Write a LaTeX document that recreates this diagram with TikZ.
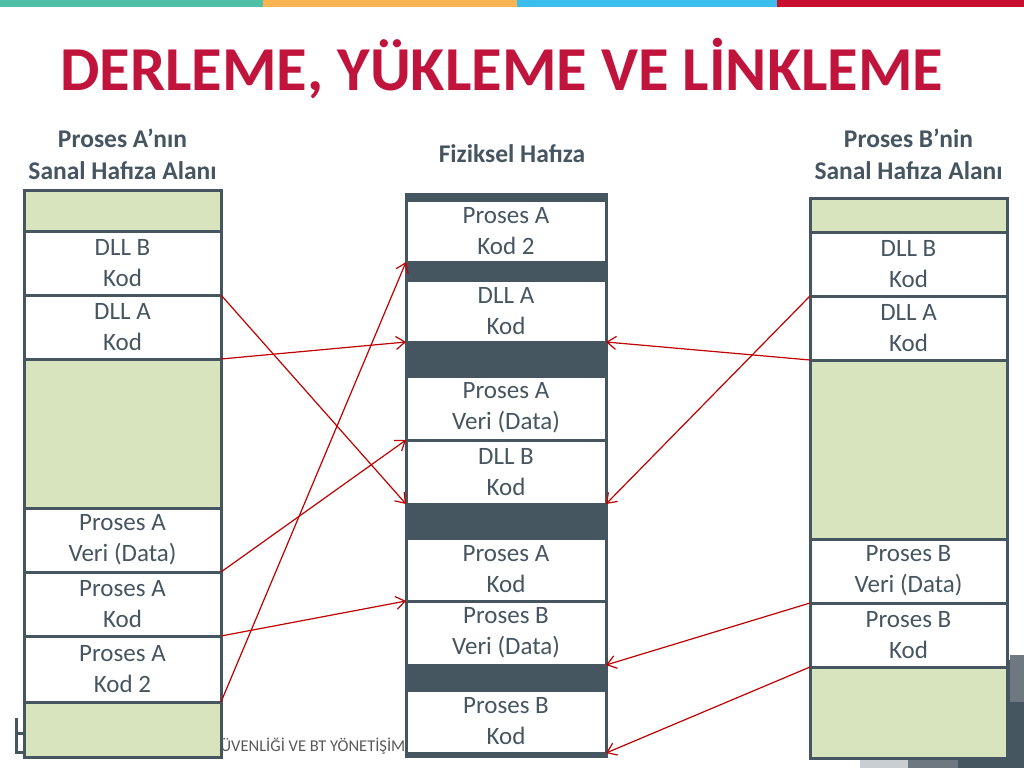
\documentclass[tikz,border=0pt]{standalone}
\usepackage{fontspec}
\setmainfont{Carlito}
\usetikzlibrary{arrows.meta}
\definecolor{slate}{HTML}{465661}
\definecolor{memgreen}{HTML}{D7E4BD}
\definecolor{titlered}{HTML}{C0143C}
\definecolor{linkred}{HTML}{C00000}
\definecolor{barteal}{HTML}{4FBFA5}
\definecolor{barorange}{HTML}{F9B552}
\definecolor{barblue}{HTML}{3BBDED}
\definecolor{barred}{HTML}{C8102E}
\definecolor{footgray}{HTML}{595959}
\definecolor{tileA}{HTML}{C9CED2}
\definecolor{tileB}{HTML}{6D7880}
\tikzset{
  cell/.style={draw=slate, line width=3pt, fill=white, text=slate,
    minimum width=197pt, inner sep=0pt, outer sep=0pt, align=center,
    font=\fontsize{25}{31}\selectfont},
  freecell/.style={cell, fill=memgreen},
  physcell/.style={cell, minimum width=200pt},
  header/.style={text=slate, align=center, font=\fontsize{25.5}{32}\selectfont\bfseries},
  link/.style={draw=linkred, line width=1.2pt,
    -{Straight Barb[length=9pt, width=13pt, line width=1.2pt]}}
}
\begin{document}
\begin{tikzpicture}[x=1pt, y=-1pt]
\useasboundingbox (0,0) rectangle (1024,768);
\fill[white] (0,0) rectangle (1024,768);

% coloured strip along the top edge
\fill[barteal]   (0,0)   rectangle (263,7);
\fill[barorange] (263,0) rectangle (517,7);
\fill[barblue]   (517,0) rectangle (777,7);
\fill[barred]    (777,0) rectangle (1024,7);

% footer decorations (partly covered by the memory maps)
\fill[tileA] (860,757) rectangle (908,768);
\fill[tileB] (908,757) rectangle (958,768);
\fill[slate] (958,757) rectangle (1024,768);
\fill[slate] (1000,660) rectangle (1024,768);
\fill[tileB] (1010,655) rectangle (1024,702);
\draw[slate, line width=3pt] (16.5,718) -- (16.5,752.5) -- (26,752.5)
  (16.5,733) -- (26,733);
\node[anchor=base west, text=footgray, font=\fontsize{16.5}{16.5}\selectfont, inner sep=0pt]
  (footer) at (210,751) {GÜVENLİĞİ VE BT YÖNETİŞİM İ};

% title
\node[anchor=base west, text=titlered, inner sep=0pt,
  font=\fontsize{62.5}{62.5}\selectfont\bfseries] (title) at (60,90)
  {DERLEME, YÜKLEME VE LİNKLEME};

% column headings
\node[header] (hA) at (122.5,154) {Proses A’nın\\Sanal Hafıza Alanı};
\node[header] (hP) at (512,154) {Fiziksel Hafıza};
\node[header] (hB) at (908.5,154) {Proses B’nin\\Sanal Hafıza Alanı};

% virtual address space of process A
\node[freecell, minimum height=41pt]  (la1) at (122.5,210.5) {};
\node[cell, minimum height=64pt]      (la2) at (122.5,263) {DLL B\\Kod};
\node[cell, minimum height=64pt]      (la3) at (122.5,327) {DLL A\\Kod};
\node[freecell, minimum height=149pt] (la4) at (122.5,433.5) {};
\node[cell, minimum height=64pt]      (la5) at (122.5,540) {Proses A\\Veri (Data)};
\node[cell, minimum height=64pt]      (la6) at (122.5,604) {Proses A\\Kod};
\node[cell, minimum height=66pt]      (la7) at (122.5,669) {Proses A\\Kod 2};
\node[freecell, minimum height=55pt]  (la8) at (122.5,729.5) {};

% physical memory: dark frame with the loaded pages on top
\fill[slate] (404.5,193) rectangle (607.5,757.5);
\node[physcell, minimum height=62pt] (pm1) at (506,231)   {Proses A\\Kod 2};
\node[physcell, minimum height=62pt] (pm2) at (506,311)   {DLL A\\Kod};
\node[physcell, minimum height=64pt] (pm3) at (506,408)   {Proses A\\Veri (Data)};
\node[physcell, minimum height=64pt] (pm4) at (506,472)   {DLL B\\Kod};
\node[physcell, minimum height=63pt] (pm5) at (506,569.5) {Proses A\\Kod};
\node[physcell, minimum height=64pt] (pm6) at (506,633)   {Proses B\\Veri (Data)};
\node[physcell, minimum height=63pt] (pm7) at (506,721.5) {Proses B\\Kod};

% virtual address space of process B
\node[freecell, minimum height=34pt]  (rb1) at (908.5,215) {};
\node[cell, minimum height=64pt]      (rb2) at (908.5,264) {DLL B\\Kod};
\node[cell, minimum height=64pt]      (rb3) at (908.5,328) {DLL A\\Kod};
\node[freecell, minimum height=179pt] (rb4) at (908.5,449.5) {};
\node[cell, minimum height=64pt]      (rb5) at (908.5,571) {Proses B\\Veri (Data)};
\node[cell, minimum height=64pt]      (rb6) at (908.5,635) {Proses B\\Kod};
\node[freecell, minimum height=91pt]  (rb7) at (908.5,712.5) {};

% mappings from process A
\draw[link] (la2.south east) -- (pm4.south west);
\draw[link] (la3.south east) -- (pm2.south west);
\draw[link] (la5.south east) -- (pm3.south west);
\draw[link] (la6.south east) -- (pm5.south west);
\draw[link] (la7.south east) -- (pm1.south west);

% mappings from process B
\draw[link] (rb2.south west) -- (pm4.south east);
\draw[link] (rb3.south west) -- (pm2.south east);
\draw[link] (rb5.south west) -- (pm6.south east);
\draw[link] (rb6.south west) -- (pm7.south east);
\end{tikzpicture}
\end{document}
